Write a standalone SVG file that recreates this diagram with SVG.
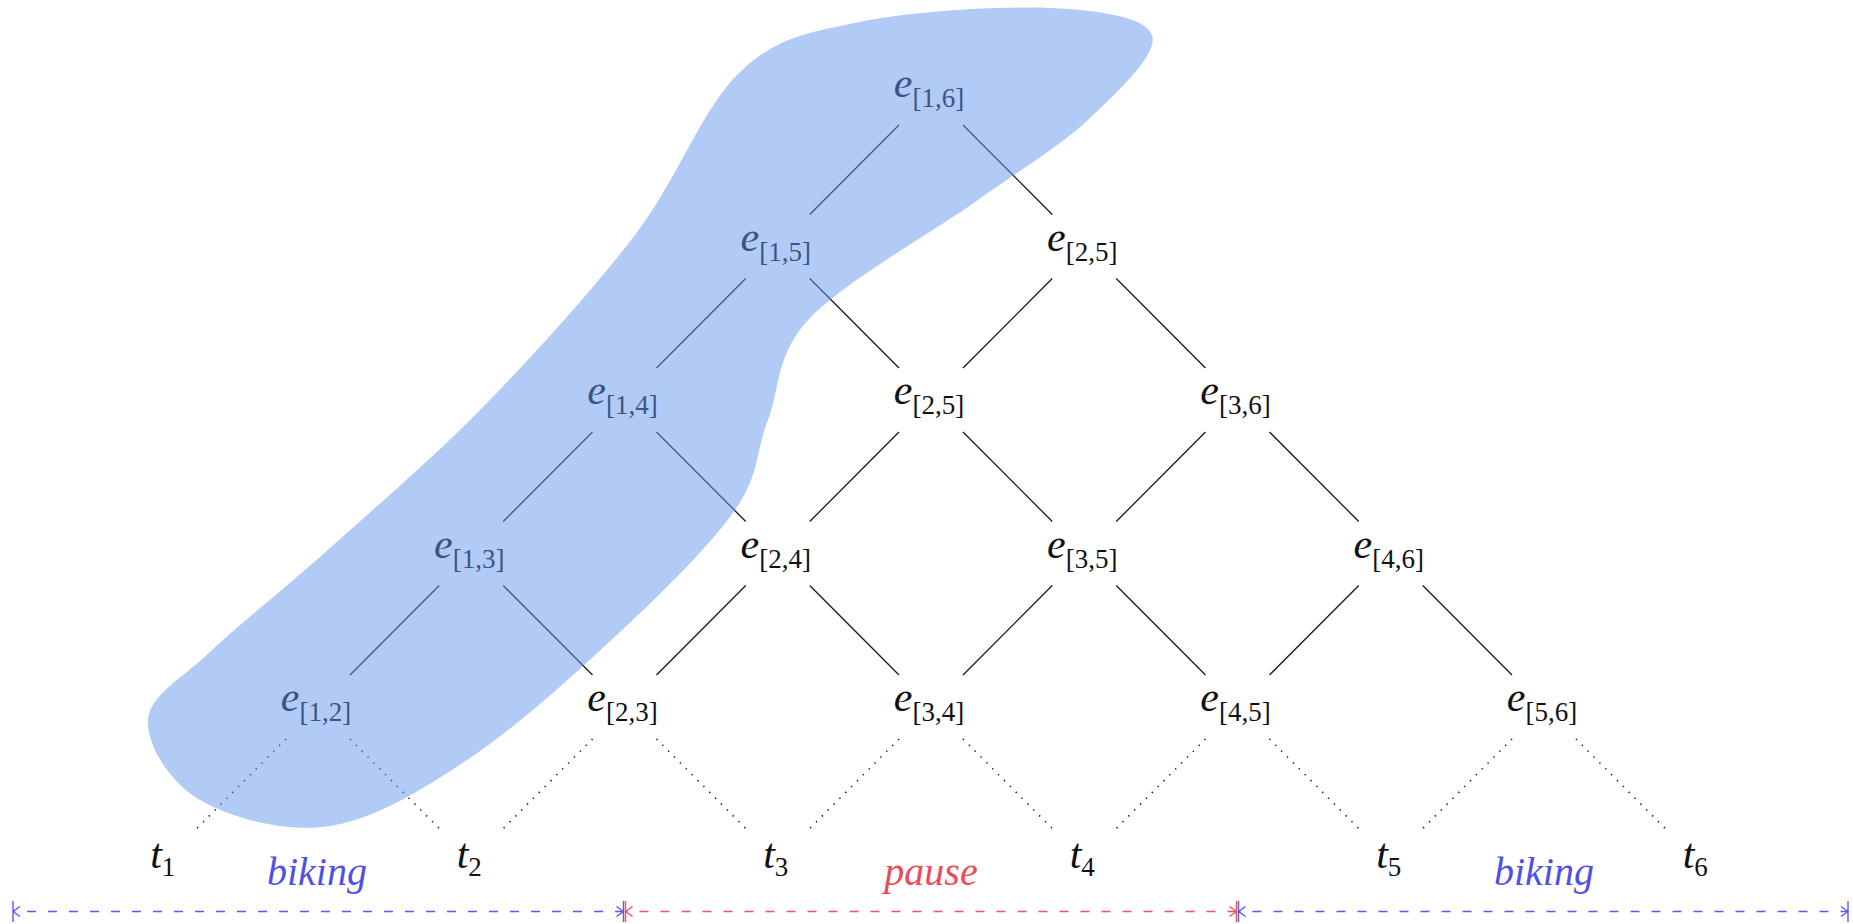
<svg xmlns="http://www.w3.org/2000/svg" width="1853" height="924" viewBox="0 0 1853 924">
<style>
  .lbl { font-family: "Liberation Serif", "Times New Roman", serif; fill: #111; }
  .m { font-style: italic; font-size: 42px; }
  .s { font-style: normal; font-size: 27px; }
  .edge { stroke: #1a1a1a; stroke-width: 1.3; fill: none; }
  .dot { stroke: #1a1a1a; stroke-width: 1.6; fill: none; stroke-dasharray: 1.3 7; stroke-linecap: butt; }
  .seg { font-family: "Liberation Serif", "Times New Roman", serif; font-style: italic; font-size: 40px; text-anchor: middle; }
  .blue { stroke: #5a5af0; fill: none; stroke-width: 1.4; stroke-dasharray: 9 12; }
  .red { stroke: #f0525e; fill: none; stroke-width: 1.4; stroke-dasharray: 9 12; }
  .tb { fill: #5050e6; }
  .tr { fill: #ee4b58; }
  .blob { fill: #6495ed; fill-opacity: 0.5; }
</style>
<defs>
  <marker id="mb" markerUnits="userSpaceOnUse" viewBox="-9 -12 11 24" refX="0" refY="0" markerWidth="11" markerHeight="24" orient="auto-start-reverse">
    <path d="M-7,-5 L0,0 L-7,5 M0,-10.5 V10.5" fill="none" stroke="#5a5af0" stroke-width="1.4"/>
  </marker>
  <marker id="mr" markerUnits="userSpaceOnUse" viewBox="-9 -12 11 24" refX="0" refY="0" markerWidth="11" markerHeight="24" orient="auto-start-reverse">
    <path d="M-7,-5 L0,0 L-7,5 M0,-10.5 V10.5" fill="none" stroke="#f0525e" stroke-width="1.4"/>
  </marker>
</defs>
<rect width="1853" height="924" fill="#ffffff"/>

<g id="connectors">
  <path class="edge" d="M899,125 L809.75,214.5 M963,125 L1052.25,214.5"/>
  <path class="edge" d="M745.75,278.5 L656.5,368 M809.75,278.5 L899,368"/>
  <path class="edge" d="M1052.25,278.5 L963,368 M1116.25,278.5 L1205.5,368"/>
  <path class="edge" d="M592.5,432 L503.25,521.5 M656.5,432 L745.75,521.5"/>
  <path class="edge" d="M899,432 L809.75,521.5 M963,432 L1052.25,521.5"/>
  <path class="edge" d="M1205.5,432 L1116.25,521.5 M1269.5,432 L1358.75,521.5"/>
  <path class="edge" d="M439.25,585.5 L350,675 M503.25,585.5 L592.5,675"/>
  <path class="edge" d="M745.75,585.5 L656.5,675 M809.75,585.5 L899,675"/>
  <path class="edge" d="M1052.25,585.5 L963,675 M1116.25,585.5 L1205.5,675"/>
  <path class="edge" d="M1358.75,585.5 L1269.5,675 M1422.75,585.5 L1512,675"/>
  <path class="dot" d="M286,739 L196.75,828.5 M350,739 L439.25,828.5"/>
  <path class="dot" d="M592.5,739 L503.25,828.5 M656.5,739 L745.75,828.5"/>
  <path class="dot" d="M899,739 L809.75,828.5 M963,739 L1052.25,828.5"/>
  <path class="dot" d="M1205.5,739 L1116.25,828.5 M1269.5,739 L1358.75,828.5"/>
  <path class="dot" d="M1512,739 L1422.75,828.5 M1576,739 L1665.25,828.5"/>
</g>

<g id="n16"><text class="lbl" x="929" y="97" text-anchor="middle"><tspan class="m">e</tspan><tspan class="s" dy="10">[1,6]</tspan></text></g>
<g id="n15"><text class="lbl" x="775.75" y="250.5" text-anchor="middle"><tspan class="m">e</tspan><tspan class="s" dy="10">[1,5]</tspan></text></g>
<g id="n25a"><text class="lbl" x="1082.25" y="250.5" text-anchor="middle"><tspan class="m">e</tspan><tspan class="s" dy="10">[2,5]</tspan></text></g>
<g id="n14"><text class="lbl" x="622.5" y="404" text-anchor="middle"><tspan class="m">e</tspan><tspan class="s" dy="10">[1,4]</tspan></text></g>
<g id="n25b"><text class="lbl" x="929" y="404" text-anchor="middle"><tspan class="m">e</tspan><tspan class="s" dy="10">[2,5]</tspan></text></g>
<g id="n36"><text class="lbl" x="1235.5" y="404" text-anchor="middle"><tspan class="m">e</tspan><tspan class="s" dy="10">[3,6]</tspan></text></g>
<g id="n13"><text class="lbl" x="469.25" y="557.5" text-anchor="middle"><tspan class="m">e</tspan><tspan class="s" dy="10">[1,3]</tspan></text></g>
<g id="n24"><text class="lbl" x="775.75" y="557.5" text-anchor="middle"><tspan class="m">e</tspan><tspan class="s" dy="10">[2,4]</tspan></text></g>
<g id="n35"><text class="lbl" x="1082.25" y="557.5" text-anchor="middle"><tspan class="m">e</tspan><tspan class="s" dy="10">[3,5]</tspan></text></g>
<g id="n46"><text class="lbl" x="1388.75" y="557.5" text-anchor="middle"><tspan class="m">e</tspan><tspan class="s" dy="10">[4,6]</tspan></text></g>
<g id="n12"><text class="lbl" x="316" y="711" text-anchor="middle"><tspan class="m">e</tspan><tspan class="s" dy="10">[1,2]</tspan></text></g>
<g id="n23"><text class="lbl" x="622.5" y="711" text-anchor="middle"><tspan class="m">e</tspan><tspan class="s" dy="10">[2,3]</tspan></text></g>
<g id="n34"><text class="lbl" x="929" y="711" text-anchor="middle"><tspan class="m">e</tspan><tspan class="s" dy="10">[3,4]</tspan></text></g>
<g id="n45"><text class="lbl" x="1235.5" y="711" text-anchor="middle"><tspan class="m">e</tspan><tspan class="s" dy="10">[4,5]</tspan></text></g>
<g id="n56"><text class="lbl" x="1542" y="711" text-anchor="middle"><tspan class="m">e</tspan><tspan class="s" dy="10">[5,6]</tspan></text></g>

<g id="t1"><text class="lbl" x="162.75" y="868" text-anchor="middle"><tspan class="m">t</tspan><tspan class="s" dy="8">1</tspan></text></g>
<g id="t2"><text class="lbl" x="469.25" y="868" text-anchor="middle"><tspan class="m">t</tspan><tspan class="s" dy="8">2</tspan></text></g>
<g id="t3"><text class="lbl" x="775.75" y="868" text-anchor="middle"><tspan class="m">t</tspan><tspan class="s" dy="8">3</tspan></text></g>
<g id="t4"><text class="lbl" x="1082.25" y="868" text-anchor="middle"><tspan class="m">t</tspan><tspan class="s" dy="8">4</tspan></text></g>
<g id="t5"><text class="lbl" x="1388.75" y="868" text-anchor="middle"><tspan class="m">t</tspan><tspan class="s" dy="8">5</tspan></text></g>
<g id="t6"><text class="lbl" x="1695.25" y="868" text-anchor="middle"><tspan class="m">t</tspan><tspan class="s" dy="8">6</tspan></text></g>

<g id="blob">
  <path class="blob" d="M740,72 C777.5,36.5 808.3,32.7 860,22 C911.7,11.3 1001.3,5.8 1050,8 C1098.7,10.2 1145.3,16.7 1152,35 C1158.7,53.3 1119,90.5 1090,118 C1061,145.5 1024.7,166.7 978,200 C931.3,233.3 845,281.3 810,318 C775,354.7 780.5,388 768,420 C755.5,452 759.7,474.7 735,510 C710.3,545.3 664.2,590.7 620,632 C575.8,673.3 518.3,725.7 470,758 C421.7,790.3 375,819 330,826 C285,833 230.3,817.7 200,800 C169.7,782.3 146.3,744.7 148,720 C149.7,695.3 179.7,680.7 210,652 C240.3,623.3 284.2,589.2 330,548 C375.8,506.8 434.2,457.2 485,405 C535.8,352.8 592.5,290.5 635,235 C677.5,179.5 702.5,107.5 740,72 Z"/>
</g>

<g id="segments">
  <path class="blue" d="M13,911.5 H623.5" marker-start="url(#mb)" marker-end="url(#mb)" stroke-dashoffset="-14"/>
  <path class="red" d="M625.5,911.5 H1236.5" marker-start="url(#mr)" marker-end="url(#mr)" stroke-dashoffset="-14"/>
  <path class="blue" d="M1238.5,911.5 H1848" marker-start="url(#mb)" marker-end="url(#mb)" stroke-dashoffset="-14"/>
  <text class="seg tb" x="317" y="885">biking</text>
  <text class="seg tr" x="931" y="885">pause</text>
  <text class="seg tb" x="1544" y="885">biking</text>
</g>
</svg>
